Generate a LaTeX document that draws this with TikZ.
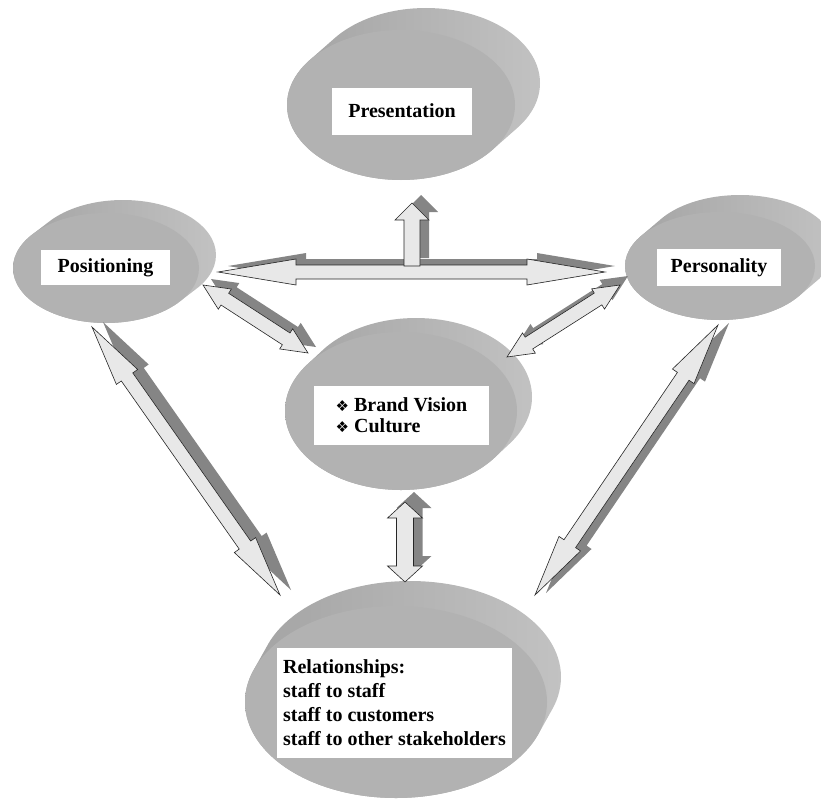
\documentclass[tikz,border=0pt]{standalone}
\usepackage{fontspec}
\setmainfont{Liberation Serif}
\newfontfamily\dingfont{DejaVu Sans}
\usepackage{tikz}
\usetikzlibrary{calc}

% raised disk: centre x, centre y, x radius, y radius, depth dx, depth dy
\newcommand\disk[6]{%
  \shade[side] \foreach \t in {0,...,12} {({#1+\t/12*(#5)},{#2+\t/12*(#6)}) ellipse [x radius=#3pt, y radius=#4pt]};
  \fill[face] (#1,#2) ellipse [x radius=#3pt, y radius=#4pt];
}
% outline of a double block arrow: style, from, to, head length, head half width, shaft half width
\newcommand\dblpath[6]{%
  \coordinate (ha) at ($(#2)!#4!(#3)$);
  \coordinate (hb) at ($(#3)!#4!(#2)$);
  \path[#1] (#2) -- ($(ha)!#5!90:(#3)$) -- ($(ha)!#6!90:(#3)$) -- ($(hb)!#6!90:(#3)$) -- ($(hb)!#5!90:(#3)$)
    -- (#3) -- ($(hb)!#5!-90:(#3)$) -- ($(hb)!#6!-90:(#3)$) -- ($(ha)!#6!-90:(#3)$) -- ($(ha)!#5!-90:(#3)$) -- cycle;
}
% outline of a single block arrow: style, base, tip, head length, head half width, shaft half width
\newcommand\sglpath[6]{%
  \coordinate (hb) at ($(#3)!#4!(#2)$);
  \path[#1] ($(#2)!#6!90:(#3)$) -- ($(hb)!#6!90:(#3)$) -- ($(hb)!#5!90:(#3)$) -- (#3)
    -- ($(hb)!#5!-90:(#3)$) -- ($(hb)!#6!-90:(#3)$) -- ($(#2)!#6!-90:(#3)$) -- cycle;
}
% block arrows with a shadow: from, to, head length, head half width, shaft half width, shadow shift
\newcommand\dblarrow[6]{%
  \coordinate (sa) at ($(#1)+(#6)$);
  \coordinate (sb) at ($(#2)+(#6)$);
  \dblpath{shadow}{sa}{sb}{#3}{#4}{#5}
  \dblpath{blk}{#1}{#2}{#3}{#4}{#5}
}
\newcommand\sglarrow[6]{%
  \coordinate (sa) at ($(#1)+(#6)$);
  \coordinate (sb) at ($(#2)+(#6)$);
  \sglpath{shadow}{sa}{sb}{#3}{#4}{#5}
  \sglpath{blk}{#1}{#2}{#3}{#4}{#5}
}
\newcommand\bul{{\dingfont\fontsize{15}{15}\selectfont ❖}\hspace{5pt}}

\begin{document}
\begin{tikzpicture}[x=1pt, y=-1pt,
    tag/.style={fill=white, inner sep=0pt, align=center, font=\fontsize{20}{24}\selectfont\bfseries},
    face/.style={fill=black!30},
    side/.style={left color=black!36, middle color=black!40, right color=black!24},
    shadow/.style={fill=black!48},
    blk/.style={fill=black!9, draw=black!85, line width=0.6pt, line join=miter}
  ]
  \useasboundingbox (0,0) rectangle (821,800);

  % disks
  \disk{401}{105}{114}{75}{25}{-22}
  \disk{106}{268}{93}{55}{17}{-13}
  \disk{720}{266}{95}{54}{20}{-17}
  \disk{401}{411}{116}{79}{15}{-14}
  \disk{396}{702}{151}{96}{14}{-25}

  % labels
  \node[tag, minimum width=140pt, minimum height=47pt] (presentation) at (402,111) {Presentation};
  \node[tag, minimum width=129pt, minimum height=35pt] (positioning) at (105.5,267.5) {Positioning};
  \node[tag, minimum width=124pt, minimum height=37pt] (personality) at (719,267.5) {Personality};
  \node[tag, align=left, minimum width=175pt, minimum height=59pt, font=\fontsize{20}{21}\selectfont\bfseries] (vision) at (401.5,415.5) {\bul Brand Vision\\\bul Culture};
  \node[tag, align=left, minimum width=235pt, minimum height=110pt] (relations) at (394.5,703) {Relationships:\\staff to staff\\staff to customers\\staff to other stakeholders};

  % arrow ends
  \coordinate (posE) at (218,272);
  \coordinate (perW) at (605,272);
  \coordinate (preB) at (412,266);
  \coordinate (preS) at (412,203);
  \coordinate (posSE) at (203,285);
  \coordinate (visNW) at (308,353);
  \coordinate (perSW) at (620,285);
  \coordinate (visNE) at (507,357);
  \coordinate (visS) at (405,502);
  \coordinate (relN) at (405,582);
  \coordinate (posS) at (92,327);
  \coordinate (relNW) at (280,595);
  \coordinate (perS) at (718,325);
  \coordinate (relNE) at (535,595);

  % arrows
  \dblarrow{posE}{perW}{78pt}{13pt}{7pt}{10,-6}
  \sglarrow{preB}{preS}{17pt}{17pt}{8pt}{9,-8}
  \dblarrow{posSE}{visNW}{26pt}{12pt}{7pt}{8,-6}
  \dblarrow{perSW}{visNE}{26pt}{12pt}{7pt}{8,-9}
  \dblarrow{visS}{relN}{16pt}{17.5pt}{8.5pt}{9,-10}
  \dblarrow{posS}{relNW}{61pt}{13pt}{7pt}{11,-5}
  \dblarrow{perS}{relNE}{62pt}{13pt}{7pt}{11,-2}
\end{tikzpicture}
\end{document}
